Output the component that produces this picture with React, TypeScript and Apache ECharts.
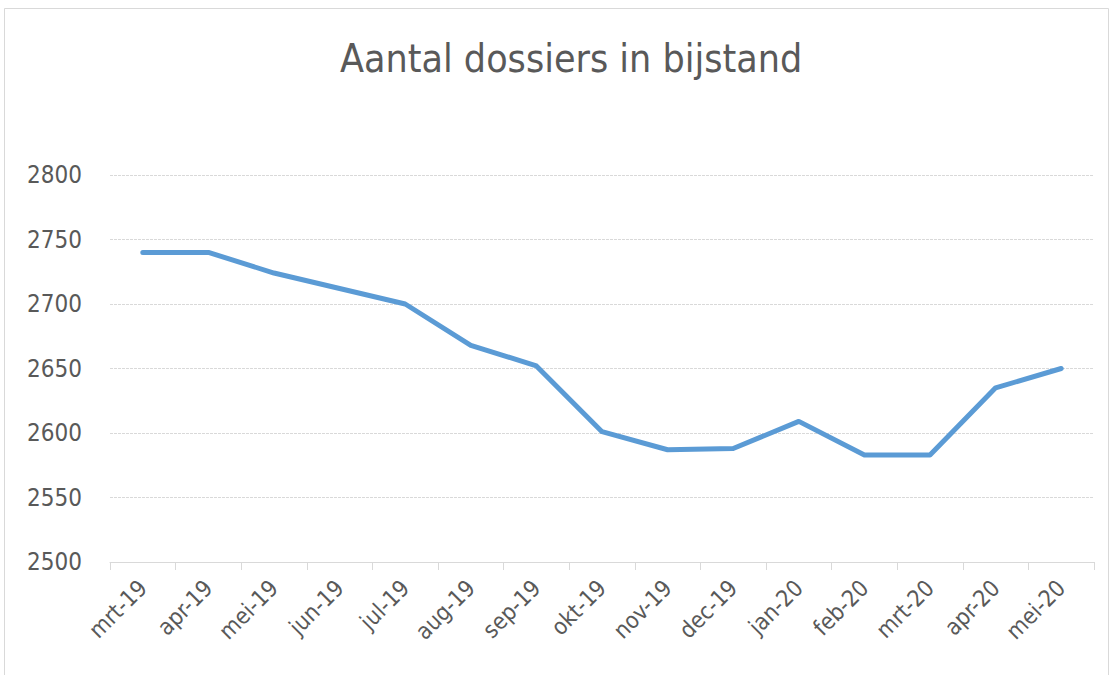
import React, { useEffect, useRef } from "react";
import * as echarts from "echarts";

const title = "Aantal dossiers in bijstand";
const categories = [
  "mrt-19", "apr-19", "mei-19", "jun-19", "jul-19", "aug-19", "sep-19", "okt-19",
  "nov-19", "dec-19", "jan-20", "feb-20", "mrt-20", "apr-20", "mei-20",
];
const values = [2740, 2740, 2724, 2712, 2700, 2668, 2652, 2601, 2587, 2588, 2609, 2583, 2583, 2635, 2650];
const yMin = 2500;
const yMax = 2800;
const yStep = 50;

const FONT = "'Liberation Sans Narrow', 'DejaVu Sans Condensed', 'Open Sans', sans-serif";

export default function App() {
  const ref = useRef<HTMLDivElement>(null);
  useEffect(() => {
    if (!ref.current) return;
    const chart = echarts.init(ref.current, null, { renderer: "svg" });
    chart.setOption({
      animation: false,
      backgroundColor: "#ffffff",
      title: {
        text: title,
        left: 335,
        top: 34,
        textStyle: { color: "#595959", fontSize: 39, fontWeight: "normal", fontFamily: FONT },
      },
      graphic: [
        {
          type: "rect",
          shape: { x: 4.5, y: 8.5, width: 1104, height: 680 },
          style: { fill: "none", stroke: "#d9d9d9", lineWidth: 1 },
          silent: true,
        },
      ],
      grid: { left: 110, right: 20, top: 175, bottom: 113 },
      xAxis: {
        type: "category",
        data: categories,
        boundaryGap: true,
        axisLine: { show: true, lineStyle: { color: "#d9d9d9", width: 1 } },
        axisTick: { show: true, length: 8, inside: false, lineStyle: { color: "#d9d9d9" } },
        axisLabel: {
          rotate: 45,
          margin: 22,
          color: "#595959",
          fontSize: 23,
          fontFamily: FONT,
        },
        splitLine: { show: false },
      },
      yAxis: {
        type: "value",
        min: yMin,
        max: yMax,
        interval: yStep,
        axisLine: { show: false },
        axisTick: { show: false },
        axisLabel: {
          color: "#595959",
          fontSize: 24,
          fontFamily: FONT,
          margin: 28,
          formatter: (v: number) => String(v),
        },
        splitLine: { lineStyle: { color: "#d9d9d9", width: 1, type: [3, 1] } },
      },
      series: [
        {
          type: "line",
          data: values,
          symbol: "none",
          lineStyle: { color: "#5b9bd5", width: 5, cap: "round", join: "round" },
        },
      ],
    });
    return () => chart.dispose();
  }, []);
  return (
    <div
      ref={ref}
      style={{ position: "fixed", left: 0, top: 0, width: 1114, height: 675 }}
    />
  );
}
